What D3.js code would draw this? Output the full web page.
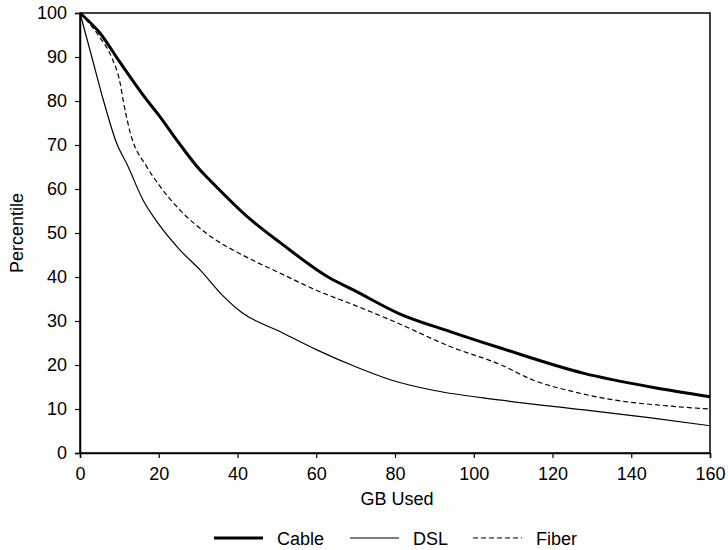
<!DOCTYPE html>
<html><head><meta charset="utf-8">
<script src="https://cdn.jsdelivr.net/npm/d3@7"></script>
<style>body{margin:0;background:#fff}svg{display:block}text{font-family:"Liberation Sans",Arial,sans-serif;fill:#000}</style>
</head><body><svg id="c" width="728" height="550"></svg>
<script>
const cableData = [[0,100],[5,95.5],[10,89],[17,80.2],[20,76.8],[25,70.6],[30.5,64.3],[33,62],[43,53.3],[51,47.7],[63,40],[70,36.8],[81,31.7],[94,27.6],[107,23.8],[128,18.1],[145,15],[160,12.8]];
const dslData = [[0,100],[3,90],[6,80],[9.3,70.4],[12,65.5],[16,57.5],[20,52],[25,46.5],[30.5,41.6],[36,36],[41,32],[51,27.5],[60,23.5],[70,19.6],[79,16.6],[90,14.2],[107,12],[128,9.8],[145,8],[160,6.2]];
const fiberData = [[0,100],[5,94.5],[8,90],[10.2,84],[11,80],[12.7,73],[17,65],[20,61],[25.4,55.2],[32,50],[43,44.2],[51,40.8],[60,37],[70,33.5],[80,29.8],[94,24.2],[107,20],[115,16.6],[125,14],[136,12],[148,10.8],[160,10]];
const seriesNames = ["Cable","DSL","Fiber"];
const xTicks = [0,20,40,60,80,100,120,140,160];
const yTicks = [0,10,20,30,40,50,60,70,80,90,100];

const svg = d3.select("#c");
const L=80,R=710,T=13,B=453;
const x = d3.scaleLinear().domain([0,160]).range([L,R]);
const y = d3.scaleLinear().domain([0,100]).range([B,T]);

svg.append("rect").attr("x",L).attr("y",T).attr("width",R-L).attr("height",B-T).attr("fill","none").attr("stroke","#000").attr("stroke-width",1.5);

const xa = svg.append("g").attr("transform",`translate(0,${B})`).call(d3.axisBottom(x).tickValues(xTicks).tickSize(5).tickPadding(9).tickFormat(d3.format("d")));
const ya = svg.append("g").attr("transform",`translate(${L},0)`).call(d3.axisLeft(y).tickValues(yTicks).tickSize(5).tickPadding(8).tickFormat(d3.format("d")));
[xa,ya].forEach(a=>{a.select(".domain").attr("stroke","#000").attr("stroke-width",1.5);a.selectAll("line").attr("stroke","#000").attr("stroke-width",1.2);a.selectAll("text").style("font-size","18px").style("font-family","Liberation Sans, Arial, sans-serif");});

const line = d3.line().x(d=>x(d[0])).y(d=>y(d[1])).curve(d3.curveMonotoneX);
const styles = [{w:3,dash:null},{w:1.2,dash:null},{w:1.2,dash:"5,3"}];
[cableData,dslData,fiberData].forEach((data,i)=>{
  svg.append("path").datum(data).attr("d",line).attr("fill","none").attr("stroke","#000").attr("stroke-width",styles[i].w).attr("stroke-dasharray",styles[i].dash);
});

svg.append("text").attr("x",397).attr("y",505).attr("text-anchor","middle").style("font-size","18px").text("GB Used");
svg.append("text").attr("transform",`translate(23,${(T+B)/2}) rotate(-90)`).attr("text-anchor","middle").style("font-size","18px").text("Percentile");

const legX=[214,350,473];
seriesNames.forEach((n,i)=>{
  svg.append("line").attr("x1",legX[i]).attr("x2",legX[i]+49).attr("y1",538).attr("y2",538).attr("stroke","#000").attr("stroke-width",styles[i].w).attr("stroke-dasharray",styles[i].dash);
  svg.append("text").attr("x",legX[i]+63).attr("y",544.5).style("font-size","18px").text(n);
});
</script></body></html>
